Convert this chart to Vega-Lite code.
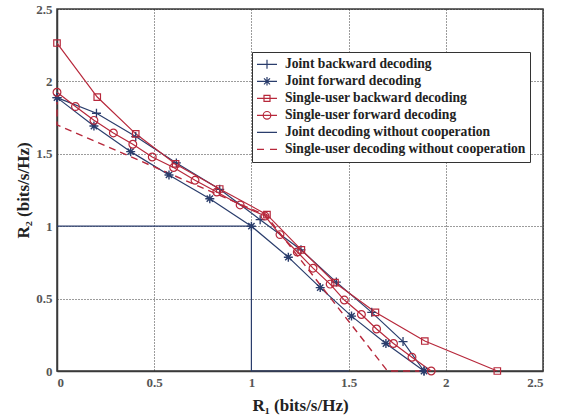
{
  "$schema": "https://vega.github.io/schema/vega-lite/v6.json",
  "width": 486,
  "height": 362,
  "padding": {"left": 14, "top": 3, "right": 8, "bottom": 4},
  "background": "white",
  "config": {
    "view": {"stroke": "#3a3a3a", "strokeWidth": 1.5},
    "axis": {
      "labelFont": "Liberation Serif",
      "labelFontWeight": "bold",
      "labelFontSize": 13,
      "labelColor": "#555555",
      "titleFont": "Liberation Serif",
      "titleFontWeight": "bold",
      "titleFontSize": 17,
      "titleColor": "#222222",
      "grid": true,
      "gridColor": "#222222",
      "gridDash": [1, 2],
      "gridWidth": 0.9,
      "domainColor": "#3a3a3a",
      "domainWidth": 1.5,
      "ticks": false,
      "labelPadding": 5
    }
  },
  "datasets": {
    "curves": [
      {"series": "Joint backward decoding", "ord": 0, "x": 0, "y": 1.888},
      {"series": "Joint backward decoding", "ord": 1, "x": 0.203, "y": 1.78},
      {"series": "Joint backward decoding", "ord": 2, "x": 0.405, "y": 1.619},
      {"series": "Joint backward decoding", "ord": 3, "x": 0.614, "y": 1.437},
      {"series": "Joint backward decoding", "ord": 4, "x": 0.837, "y": 1.255},
      {"series": "Joint backward decoding", "ord": 5, "x": 1.045, "y": 1.045},
      {"series": "Joint backward decoding", "ord": 6, "x": 1.255, "y": 0.837},
      {"series": "Joint backward decoding", "ord": 7, "x": 1.437, "y": 0.614},
      {"series": "Joint backward decoding", "ord": 8, "x": 1.619, "y": 0.405},
      {"series": "Joint backward decoding", "ord": 9, "x": 1.78, "y": 0.203},
      {"series": "Joint backward decoding", "ord": 10, "x": 1.888, "y": 0},

      {"series": "Joint forward decoding", "ord": 0, "x": 0, "y": 1.888},
      {"series": "Joint forward decoding", "ord": 1, "x": 0.19, "y": 1.692},
      {"series": "Joint forward decoding", "ord": 2, "x": 0.379, "y": 1.515},
      {"series": "Joint forward decoding", "ord": 3, "x": 0.576, "y": 1.354},
      {"series": "Joint forward decoding", "ord": 4, "x": 0.786, "y": 1.19},
      {"series": "Joint forward decoding", "ord": 5, "x": 1.0, "y": 1.0},
      {"series": "Joint forward decoding", "ord": 6, "x": 1.19, "y": 0.786},
      {"series": "Joint forward decoding", "ord": 7, "x": 1.354, "y": 0.576},
      {"series": "Joint forward decoding", "ord": 8, "x": 1.515, "y": 0.379},
      {"series": "Joint forward decoding", "ord": 9, "x": 1.692, "y": 0.19},
      {"series": "Joint forward decoding", "ord": 10, "x": 1.888, "y": 0},

      {"series": "Single-user backward decoding", "ord": 0, "x": 0, "y": 2.265},
      {"series": "Single-user backward decoding", "ord": 1, "x": 0.207, "y": 1.892},
      {"series": "Single-user backward decoding", "ord": 2, "x": 0.405, "y": 1.638},
      {"series": "Single-user backward decoding", "ord": 3, "x": 0.61, "y": 1.43},
      {"series": "Single-user backward decoding", "ord": 4, "x": 0.837, "y": 1.257},
      {"series": "Single-user backward decoding", "ord": 5, "x": 1.08, "y": 1.08},
      {"series": "Single-user backward decoding", "ord": 6, "x": 1.257, "y": 0.837},
      {"series": "Single-user backward decoding", "ord": 7, "x": 1.43, "y": 0.61},
      {"series": "Single-user backward decoding", "ord": 8, "x": 1.638, "y": 0.405},
      {"series": "Single-user backward decoding", "ord": 9, "x": 1.892, "y": 0.207},
      {"series": "Single-user backward decoding", "ord": 10, "x": 2.265, "y": 0},

      {"series": "Single-user forward decoding", "ord": 0, "x": 0, "y": 1.925},
      {"series": "Single-user forward decoding", "ord": 1, "x": 0.095, "y": 1.826},
      {"series": "Single-user forward decoding", "ord": 2, "x": 0.19, "y": 1.731},
      {"series": "Single-user forward decoding", "ord": 3, "x": 0.29, "y": 1.644},
      {"series": "Single-user forward decoding", "ord": 4, "x": 0.39, "y": 1.566},
      {"series": "Single-user forward decoding", "ord": 5, "x": 0.49, "y": 1.478},
      {"series": "Single-user forward decoding", "ord": 6, "x": 0.6, "y": 1.405},
      {"series": "Single-user forward decoding", "ord": 7, "x": 0.71, "y": 1.317},
      {"series": "Single-user forward decoding", "ord": 8, "x": 0.822, "y": 1.236},
      {"series": "Single-user forward decoding", "ord": 9, "x": 0.942, "y": 1.147},
      {"series": "Single-user forward decoding", "ord": 10, "x": 1.07, "y": 1.07},
      {"series": "Single-user forward decoding", "ord": 11, "x": 1.147, "y": 0.942},
      {"series": "Single-user forward decoding", "ord": 12, "x": 1.236, "y": 0.822},
      {"series": "Single-user forward decoding", "ord": 13, "x": 1.317, "y": 0.71},
      {"series": "Single-user forward decoding", "ord": 14, "x": 1.405, "y": 0.6},
      {"series": "Single-user forward decoding", "ord": 15, "x": 1.478, "y": 0.49},
      {"series": "Single-user forward decoding", "ord": 16, "x": 1.566, "y": 0.39},
      {"series": "Single-user forward decoding", "ord": 17, "x": 1.644, "y": 0.29},
      {"series": "Single-user forward decoding", "ord": 18, "x": 1.731, "y": 0.19},
      {"series": "Single-user forward decoding", "ord": 19, "x": 1.826, "y": 0.095},
      {"series": "Single-user forward decoding", "ord": 20, "x": 1.925, "y": 0},

      {"series": "Joint decoding without cooperation", "ord": 0, "x": 0, "y": 1},
      {"series": "Joint decoding without cooperation", "ord": 1, "x": 1, "y": 1},
      {"series": "Joint decoding without cooperation", "ord": 2, "x": 1, "y": 0},
      {"series": "Joint decoding without cooperation", "ord": 3, "x": 1.5, "y": 0},

      {"series": "Single-user decoding without cooperation", "ord": 0, "x": 0, "y": 1.888},
      {"series": "Single-user decoding without cooperation", "ord": 1, "x": 0, "y": 1.7},
      {"series": "Single-user decoding without cooperation", "ord": 2, "x": 1.075, "y": 1.075},
      {"series": "Single-user decoding without cooperation", "ord": 3, "x": 1.7, "y": 0},
      {"series": "Single-user decoding without cooperation", "ord": 4, "x": 1.888, "y": 0}
    ]
  },
  "data": {"name": "curves"},
  "encoding": {
    "x": {
      "field": "x",
      "type": "quantitative",
      "scale": {"domain": [0, 2.5], "nice": false, "zero": false},
      "axis": {"values": [0, 0.5, 1, 1.5, 2, 2.5], "format": "~g", "title": "R₁ (bits/s/Hz)", "titlePadding": 8}
    },
    "y": {
      "field": "y",
      "type": "quantitative",
      "scale": {"domain": [0, 2.5], "nice": false, "zero": false},
      "axis": {"values": [0, 0.5, 1, 1.5, 2, 2.5], "format": "~g", "title": "R₂ (bits/s/Hz)", "titlePadding": 3}
    }
  },
  "layer": [
    {
      "transform": [{"filter": {"field": "series", "oneOf": ["Joint backward decoding", "Joint forward decoding", "Single-user backward decoding", "Single-user forward decoding", "Joint decoding without cooperation"]}}],
      "mark": {"type": "line", "strokeWidth": 1.2, "clip": false},
      "encoding": {
        "color": {
          "field": "series",
          "type": "nominal",
          "scale": {
            "domain": ["Joint backward decoding", "Joint forward decoding", "Single-user backward decoding", "Single-user forward decoding", "Joint decoding without cooperation", "Single-user decoding without cooperation"],
            "range": ["#2a3d6c", "#2a3d6c", "#b7283b", "#b7283b", "#2a3d6c", "#b7283b"]
          }
        },
        "order": {"field": "ord", "type": "quantitative"}
      }
    },
    {
      "transform": [{"filter": {"field": "series", "equal": "Single-user decoding without cooperation"}}],
      "mark": {"type": "line", "strokeWidth": 1.4, "strokeDash": [7, 5], "color": "#b7283b", "clip": false},
      "encoding": {
        "order": {"field": "ord", "type": "quantitative"}
      }
    },
    {
      "transform": [{"filter": {"field": "series", "equal": "Joint backward decoding"}}],
      "mark": {"type": "point", "shape": "M-1,0H1M0,-1V1", "size": 81, "filled": false, "color": "#2a3d6c", "strokeWidth": 1.3, "opacity": 1}
    },
    {
      "transform": [{"filter": {"field": "series", "equal": "Joint forward decoding"}}],
      "mark": {"type": "point", "shape": "M-1,0H1M0,-1V1M-0.7,-0.7L0.7,0.7M-0.7,0.7L0.7,-0.7", "size": 81, "filled": false, "color": "#2a3d6c", "strokeWidth": 1.4, "opacity": 1}
    },
    {
      "transform": [{"filter": {"field": "series", "equal": "Single-user backward decoding"}}],
      "mark": {"type": "point", "shape": "square", "size": 42, "filled": false, "color": "#b7283b", "strokeWidth": 1.2, "opacity": 1}
    },
    {
      "transform": [{"filter": {"field": "series", "equal": "Single-user forward decoding"}}],
      "mark": {"type": "point", "shape": "circle", "size": 60, "filled": false, "color": "#b7283b", "strokeWidth": 1.2, "opacity": 1}
    },
    {
      "transform": [{"filter": "false"}],
      "mark": {"type": "point", "filled": false, "opacity": 1},
      "encoding": {
        "color": {
          "field": "series",
          "type": "nominal",
          "scale": {
            "domain": ["Joint backward decoding", "Joint forward decoding", "Single-user backward decoding", "Single-user forward decoding", "Joint decoding without cooperation", "Single-user decoding without cooperation"],
            "range": ["#2a3d6c", "#2a3d6c", "#b7283b", "#b7283b", "#2a3d6c", "#b7283b"]
          },
          "legend": {
            "title": null,
            "orient": "none",
            "legendX": 195,
            "legendY": 43,
            "direction": "vertical",
            "fillColor": "white",
            "strokeColor": "#333333",
            "padding": 4,
            "symbolSize": 400,
            "symbolStrokeWidth": 1.2,
            "clipHeight": 16.6,
            "rowPadding": 0,
            "labelOffset": 7,
            "labelFont": "Liberation Serif",
            "labelFontWeight": "bold",
            "labelFontSize": 13.6,
            "labelColor": "#222222",
            "labelLimit": 400
          }
        },
        "shape": {
          "field": "series",
          "type": "nominal",
          "scale": {
            "domain": ["Joint backward decoding", "Joint forward decoding", "Single-user backward decoding", "Single-user forward decoding", "Joint decoding without cooperation", "Single-user decoding without cooperation"],
            "range": [
              "M-1,0H1M0,-0.45V0.45",
              "M-1,0H1M0,-0.42V0.42M-0.3,-0.3L0.3,0.3M-0.3,0.3L0.3,-0.3",
              "M-1,0H1M-0.3,-0.3H0.3V0.3H-0.3Z",
              "M-1,0H1M0.38,0A0.38,0.38 0 1,1 -0.38,0A0.38,0.38 0 1,1 0.38,0Z",
              "M-1,0H1",
              "M-1,0H-0.3M0.3,0H1"
            ]
          },
          "legend": {
            "title": null,
            "orient": "none",
            "legendX": 195,
            "legendY": 43,
            "direction": "vertical",
            "fillColor": "white",
            "strokeColor": "#333333",
            "padding": 4,
            "symbolSize": 400,
            "symbolStrokeWidth": 1.2,
            "clipHeight": 16.6,
            "rowPadding": 0,
            "labelOffset": 7,
            "labelFont": "Liberation Serif",
            "labelFontWeight": "bold",
            "labelFontSize": 13.6,
            "labelColor": "#222222",
            "labelLimit": 400
          }
        }
      }
    }
  ]
}
